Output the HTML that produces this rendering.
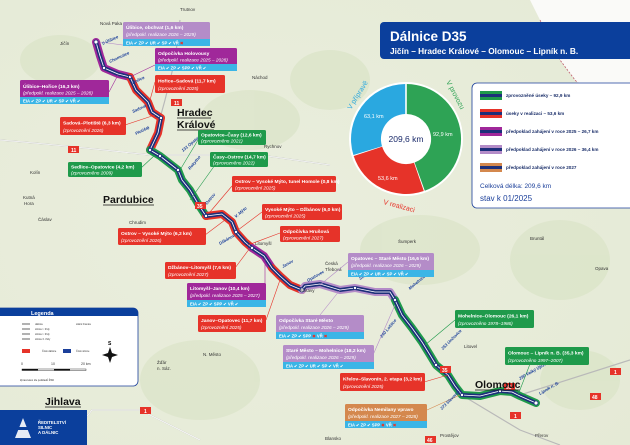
<!DOCTYPE html>
<html><head><meta charset="utf-8"><style>
html,body{margin:0;padding:0;background:#fff}
svg{display:block;font-family:"Liberation Sans",sans-serif}
.t{fill:#fff;font-weight:bold;font-size:4.9px}
.i{fill:#fff;font-style:italic;font-size:4.7px}
.b{fill:#fff;font-weight:bold;font-size:4.2px}
.m{fill:#333;font-size:4.5px}
.k{fill:#1b3f9a;font-weight:bold;font-style:italic;font-size:4.2px}
</style></head><body>
<svg width="630" height="445" viewBox="0 0 630 445" xmlns="http://www.w3.org/2000/svg">
<defs>
<radialGradient id="bg" cx="0.4" cy="0.5" r="0.8"><stop offset="0" stop-color="#eaeedd"/><stop offset="1" stop-color="#e5ead6"/></radialGradient>
</defs>
<rect width="630" height="445" fill="url(#bg)"/>
<path d="M530 0 L630 0 L630 160 L610 140 L600 120 L590 95 L575 80 L560 60 L550 40 L540 20 Z" fill="#fafaf8"/>
<path d="M540 20 L550 40 L560 60 L575 80 L590 95 L600 120 L610 140 L630 160" fill="none" stroke="#c06070" stroke-width="0.8" stroke-dasharray="2,1.5"/>
<g fill="#d8e3c4" opacity="0.6">
<ellipse cx="60" cy="60" rx="40" ry="25"/><ellipse cx="250" cy="120" rx="50" ry="30"/><ellipse cx="420" cy="250" rx="60" ry="35"/><ellipse cx="560" cy="260" rx="50" ry="40"/><ellipse cx="200" cy="380" rx="60" ry="40"/><ellipse cx="330" cy="80" rx="40" ry="30"/><ellipse cx="580" cy="380" rx="40" ry="30"/>
</g>
<g fill="none" stroke="#b9b9b9" stroke-width="1.2">
<path d="M0 140 Q60 145 150 155 L260 155 L330 165"/>
<path d="M80 425 L92 410 L140 410 L200 440"/>
<path d="M465 397 L520 430 L560 445"/>
<path d="M520 395 L630 360"/>
<path d="M150 155 L165 100 L175 60 L180 20"/>
</g>
<g fill="none" stroke="#ffffff" stroke-width="0.8">
<path d="M0 140 Q60 145 150 155 L260 155 L330 165"/>
<path d="M80 425 L92 410 L140 410 L200 440"/>
</g>
<g fill="none" stroke-linecap="round" stroke-linejoin="round">
<path d="M96 42 L100 56 L104 68 L118 74 L130 77" stroke="#a0289a" stroke-width="8"/>
<path d="M130 77 L136 90 L148 102 L152 112 L161 118 L158 133 L150 150" stroke="#e63329" stroke-width="8"/>
<path d="M150 150 L160 156 L178 170 L182 180 L190 190 L200 207 L206 216" stroke="#1f9a4b" stroke-width="8"/>
<path d="M206 216 L222 214 L232 222 L236 232 L245 242 L252 248" stroke="#e63329" stroke-width="8"/>
<path d="M252 248 L264 256 L272 268" stroke="#a0289a" stroke-width="8"/>
<path d="M272 268 L280 276 L290 285 L302 290" stroke="#e63329" stroke-width="8"/>
<path d="M302 290 L305 286 L320 284 L340 290 L355 288 L375 292 L390 292 L395 300" stroke="#b48cc8" stroke-width="8"/>
<path d="M395 300 L402 315 L412 328 L422 342 L430 355 L436 365 L448 375 L455 386 L462 395 L480 396 L500 391 L512 392 L520 396 L536 403" stroke="#1f9a4b" stroke-width="8"/>
<path d="M96 42 L100 56 L104 68 L118 74 L130 77 L136 90 L148 102 L152 112 L161 118 L158 133 L150 150 L160 156 L178 170 L182 180 L190 190 L200 207 L206 216 L222 214 L232 222 L236 232 L245 242 L252 248 L264 256 L272 268 L280 276 L290 285 L302 290 L305 286 L320 284 L340 290 L355 288 L375 292 L390 292 L395 300 L402 315 L412 328 L422 342 L430 355 L436 365 L448 375 L455 386 L462 395 L480 396 L500 391 L512 392 L520 396 L536 403" stroke="#1d2f7a" stroke-width="4"/>
<path d="M96 42 L100 56 L104 68 L118 74 L130 77 L136 90 L148 102 L152 112 L161 118 L158 133 L150 150 L160 156 L178 170 L182 180 L190 190 L200 207 L206 216 L222 214 L232 222 L236 232 L245 242 L252 248 L264 256 L272 268 L280 276 L290 285 L302 290 L305 286 L320 284 L340 290 L355 288 L375 292 L390 292 L395 300 L402 315 L412 328 L422 342 L430 355 L436 365 L448 375 L455 386 L462 395 L480 396 L500 391 L512 392 L520 396 L536 403" stroke="#fff" stroke-width="0.8"/>
</g>
<g fill="#fff" stroke="#1d2f7a" stroke-width="0.8">
<circle cx="96" cy="42" r="2"/><circle cx="104" cy="68" r="1.6"/><circle cx="130" cy="77" r="1.6"/><circle cx="161" cy="118" r="1.6"/><circle cx="150" cy="150" r="1.6"/><circle cx="160" cy="156" r="1.6"/><circle cx="178" cy="170" r="1.6"/><circle cx="206" cy="216" r="1.6"/><circle cx="236" cy="232" r="1.6"/><circle cx="252" cy="248" r="1.6"/><circle cx="302" cy="290" r="2"/><circle cx="355" cy="288" r="1.6"/><circle cx="395" cy="300" r="1.6"/><circle cx="436" cy="365" r="1.6"/><circle cx="462" cy="395" r="1.6"/><circle cx="500" cy="391" r="1.6"/><circle cx="536" cy="403" r="2"/>
</g>
<g font-size="5" font-weight="bold" fill="#fff">
<rect x="171" y="99" width="11" height="7" fill="#e63329"/><text x="174" y="105">11</text>
<rect x="68" y="146" width="11" height="7" fill="#e63329"/><text x="71" y="152">11</text>
<rect x="195" y="202" width="11" height="7" fill="#e63329"/><text x="197" y="208">35</text>
<rect x="440" y="366" width="11" height="7" fill="#e63329"/><text x="442" y="372">35</text>
<rect x="504" y="383" width="11" height="7" fill="#e63329"/><text x="506" y="389">35</text>
<rect x="610" y="368" width="11" height="7" fill="#e63329"/><text x="614" y="374">1</text>
<rect x="590" y="393" width="11" height="7" fill="#e63329"/><text x="592" y="399">48</text>
<rect x="510" y="412" width="11" height="7" fill="#e63329"/><text x="514" y="418">1</text>
<rect x="425" y="436" width="11" height="7" fill="#e63329"/><text x="427" y="442">46</text>
<rect x="140" y="407" width="11" height="7" fill="#e63329"/><text x="144" y="413">1</text>
</g>
<g class="m">
<text x="180" y="11">Trutnov</text><text x="100" y="25">Nová Paka</text><text x="60" y="45">Jičín</text><text x="252" y="79">Náchod</text><text x="264" y="148">Rychnov</text><text x="30" y="174">Kolín</text><text x="23" y="199">Kutná</text><text x="24" y="205">Hora</text><text x="129" y="224">Chrudim</text><text x="38" y="221">Čáslav</text><text x="255" y="245">Litomyšl</text><text x="325" y="265">Česká</text><text x="325" y="271">Třebová</text><text x="398" y="243">Šumperk</text><text x="530" y="240">Bruntál</text><text x="595" y="270">Opava</text><text x="464" y="348">Litovel</text><text x="535" y="437">Přerov</text><text x="440" y="437">Prostějov</text><text x="325" y="440">Blansko</text><text x="157" y="364">Žďár</text><text x="157" y="370">n. Sáz.</text><text x="203" y="356">N. Město</text><text x="300" y="292">Svitavy</text><text x="470" y="30">Broumov</text>
</g>
<g font-weight="bold" font-size="10.5" fill="#111">
<text x="177" y="116">Hradec</text>
<text x="177" y="128">Králové</text>
<text x="103" y="203">Pardubice</text>
<text x="475" y="388">Olomouc</text>
<text x="45" y="405">Jihlava</text>
</g>
<g stroke="#111" stroke-width="0.7">
<line x1="177" y1="118" x2="211" y2="118"/><line x1="177" y1="130" x2="214" y2="130"/><line x1="103" y1="205" x2="154" y2="205"/><line x1="475" y1="390" x2="520" y2="390"/><line x1="45" y1="407" x2="81" y2="407"/>
</g>
<g stroke-width="0.6" fill="none">
<path d="M130 46 L100 42" stroke="#b48cc8"/><path d="M155 65 L130 77" stroke="#a0289a"/><path d="M109 92 L118 75" stroke="#a0289a"/>
<path d="M155 82 L150 100" stroke="#e63329"/><path d="M125 125 L155 115" stroke="#e63329"/>
<path d="M198 140 L180 170" stroke="#1f9a4b"/><path d="M215 165 L190 200" stroke="#1f9a4b"/><path d="M141 168 L155 155" stroke="#1f9a4b"/>
<path d="M232 186 L210 212" stroke="#e63329"/><path d="M262 212 L238 230" stroke="#e63329"/><path d="M280 233 L248 245" stroke="#e63329"/>
<path d="M205 235 L225 220" stroke="#e63329"/><path d="M235 268 L250 248" stroke="#e63329"/><path d="M265 290 L265 258" stroke="#a0289a"/><path d="M266 320 L280 280" stroke="#e63329"/>
<path d="M320 315 L340 290" stroke="#b48cc8"/><path d="M348 262 L320 285" stroke="#b48cc8"/><path d="M373 355 L395 305" stroke="#b48cc8"/>
<path d="M455 320 L425 345" stroke="#1f9a4b"/><path d="M530 364 L518 395" stroke="#1f9a4b"/><path d="M424 382 L448 375" stroke="#e63329"/><path d="M427 410 L460 395" stroke="#d4884e"/>
</g>
<g class="k">
<text x="103" y="45" transform="rotate(-25 103 45)">0 Úlibice</text><text x="110" y="63" transform="rotate(-25 110 63)">Chomutice</text><text x="133" y="84" transform="rotate(-25 133 84)">Hořice</text><text x="133" y="113" transform="rotate(-25 133 113)">Sadová</text><text x="136" y="135" transform="rotate(-25 136 135)">Plotiště</text><text x="183" y="152" transform="rotate(-40 183 152)">131 Opatovice</text><text x="190" y="170" transform="rotate(-50 190 170)">Rokytno</text><text x="207" y="205" transform="rotate(-50 207 205)">Ostrov</text><text x="236" y="218" transform="rotate(-40 236 218)">V. Mýto</text><text x="220" y="245" transform="rotate(-30 220 245)">Džbánov</text><text x="283" y="268" transform="rotate(-30 283 268)">Janov</text><text x="308" y="282" transform="rotate(-30 308 282)">Opatovec</text><text x="360" y="280" transform="rotate(-30 360 280)">St. Město</text><text x="410" y="290" transform="rotate(-40 410 290)">Mohelnice</text><text x="382" y="338" transform="rotate(-50 382 338)">240 Loštice</text><text x="443" y="350" transform="rotate(-45 443 350)">253 Unčovice</text><text x="520" y="380" transform="rotate(-30 520 380)">290 Velký Újezd</text><text x="540" y="395" transform="rotate(-30 540 395)">Lipník n. B.</text><text x="442" y="410" transform="rotate(-45 442 410)">273 Slavonín</text>
</g>
<g>
<rect x="123" y="22" width="87" height="24" rx="1.5" fill="#b48cc8"/><rect x="123" y="39" width="87" height="7" fill="#3bb5e6"/>
<text class="t" x="126" y="29">Úlibice, obchvat (1,6 km)</text><text class="i" x="126" y="36">(předpokl. realizace 2026 – 2029)</text>
<text class="b" x="126" y="44.5">EIA ✔  ZP ✔  UR ✔  SP ✔  VŘ <tspan fill="#e63329">✖</tspan></text>
<rect x="155" y="48" width="82" height="23" rx="1.5" fill="#a0289a"/><rect x="155" y="64" width="82" height="7" fill="#3bb5e6"/>
<text class="t" x="158" y="55">Odpočívka Holovousy</text><text class="i" x="158" y="61.5">(předpokl. realizace 2025 – 2028)</text>
<text class="b" x="158" y="69.5">EIA ✔  ZP ✔  SPP ✔  VŘ ✔</text>
<rect x="20" y="80" width="89" height="24" rx="1.5" fill="#a0289a"/><rect x="20" y="97" width="89" height="7" fill="#3bb5e6"/>
<text class="t" x="23" y="88">Úlibice–Hořice (16,3 km)</text><text class="i" x="23" y="94.5">(předpokl. realizace 2025 – 2028)</text>
<text class="b" x="23" y="102.5">EIA ✔  ZP ✔  UR ✔  SP ✔  VŘ ✔</text>
<rect x="155" y="75" width="70" height="18" rx="1.5" fill="#e63329"/><text class="t" x="158" y="82.5">Hořice–Sadová (11,7 km)</text><text class="i" x="158" y="90">(zprovoznění 2025)</text>
<rect x="60" y="117" width="66" height="18" rx="1.5" fill="#e63329"/><text class="t" x="63" y="124.5">Sadová–Plotiště (6,3 km)</text><text class="i" x="63" y="132">(zprovoznění 2026)</text>
<rect x="198" y="130" width="68" height="15" rx="1.5" fill="#1f9a4b"/><text class="t" x="201" y="136.5">Opatovice–Časy (12,6 km)</text><text class="i" x="201" y="142.5">(zprovozněno 2021)</text>
<rect x="210" y="152" width="58" height="15" rx="1.5" fill="#1f9a4b"/><text class="t" x="213" y="158.5">Časy–Ostrov (14,7 km)</text><text class="i" x="213" y="164.5">(zprovozněno 2022)</text>
<rect x="68" y="162" width="74" height="15" rx="1.5" fill="#1f9a4b"/><text class="t" x="71" y="168.5">Sedlice–Opatovice (4,2 km)</text><text class="i" x="71" y="174.5">(zprovozněno 2009)</text>
<rect x="232" y="176" width="104" height="16" rx="1.5" fill="#e63329"/><text class="t" x="235" y="183">Ostrov – Vysoké Mýto, tunel Homole (0,8 km)</text><text class="i" x="235" y="189.5">(zprovoznění 2025)</text>
<rect x="262" y="204" width="80" height="16" rx="1.5" fill="#e63329"/><text class="t" x="265" y="211">Vysoké Mýto – Džbánov (6,0 km)</text><text class="i" x="265" y="217.5">(zprovoznění 2025)</text>
<rect x="280" y="226" width="60" height="16" rx="1.5" fill="#e63329"/><text class="t" x="283" y="233">Odpočívka Hrušová</text><text class="i" x="283" y="239.5">(zprovoznění 2027)</text>
<rect x="118" y="228" width="88" height="17" rx="1.5" fill="#e63329"/><text class="t" x="121" y="235">Ostrov – Vysoké Mýto (6,2 km)</text><text class="i" x="121" y="242">(zprovoznění 2026)</text>
<rect x="165" y="262" width="71" height="17" rx="1.5" fill="#e63329"/><text class="t" x="168" y="269">Džbánov–Litomyšl (7,6 km)</text><text class="i" x="168" y="276">(zprovoznění 2027)</text>
<rect x="187" y="283" width="79" height="24" rx="1.5" fill="#a0289a"/><rect x="187" y="300" width="79" height="7" fill="#3bb5e6"/>
<text class="t" x="190" y="290">Litomyšl–Janov (10,4 km)</text><text class="i" x="190" y="297">(předpokl. realizace 2025 – 2027)</text><text class="b" x="190" y="305.5">EIA ✔  ZP ✔  SPP ✔  VŘ ✔</text>
<rect x="198" y="315" width="68" height="17" rx="1.5" fill="#e63329"/><text class="t" x="201" y="322">Janov–Opatovec (11,7 km)</text><text class="i" x="201" y="329">(zprovoznění 2025)</text>
<rect x="276" y="315" width="88" height="24" rx="1.5" fill="#b48cc8"/><rect x="276" y="332" width="88" height="7" fill="#3bb5e6"/>
<text class="t" x="279" y="322">Odpočívka Staré Město</text><text class="i" x="279" y="329">(předpokl. realizace 2026 – 2029)</text><text class="b" x="279" y="337.5">EIA ✔  ZP ✔  SPP <tspan fill="#e63329">✖</tspan>  VŘ <tspan fill="#e63329">✖</tspan></text>
<rect x="283" y="345" width="91" height="24" rx="1.5" fill="#b48cc8"/><rect x="283" y="362" width="91" height="7" fill="#3bb5e6"/>
<text class="t" x="286" y="352">Staré Město – Mohelnice (18,2 km)</text><text class="i" x="286" y="359">(předpokl. realizace 2026 – 2029)</text><text class="b" x="286" y="367.5">EIA ✔  ZP ✔  UR ✔  SP ✔  VŘ ✔</text>
<rect x="348" y="253" width="86" height="24" rx="1.5" fill="#b48cc8"/><rect x="348" y="270" width="86" height="7" fill="#3bb5e6"/>
<text class="t" x="351" y="260">Opatovec – Staré Město (16,6 km)</text><text class="i" x="351" y="267">(předpokl. realizace 2026 – 2029)</text><text class="b" x="351" y="275.5">EIA ✔  ZP ✔  UR ✔  SP ✔  VŘ ✔</text>
<rect x="455" y="310" width="79" height="18" rx="1.5" fill="#1f9a4b"/><text class="t" x="458" y="317.5">Mohelnice–Olomouc (26,1 km)</text><text class="i" x="458" y="325">(zprovozněno 1978–1986)</text>
<rect x="505" y="347" width="84" height="18" rx="1.5" fill="#1f9a4b"/><text class="t" x="508" y="354.5">Olomouc – Lipník n. B. (35,3 km)</text><text class="i" x="508" y="362">(zprovozněno 1997–2007)</text>
<rect x="340" y="373" width="85" height="18" rx="1.5" fill="#e63329"/><text class="t" x="343" y="380.5">Křelov–Slavonín, 2. etapa (3,2 km)</text><text class="i" x="343" y="388">(zprovoznění 2025)</text>
<rect x="345" y="404" width="82" height="24" rx="1.5" fill="#d4884e"/><rect x="345" y="421" width="82" height="7" fill="#3bb5e6"/>
<text class="t" x="348" y="411">Odpočívka Nemilany vpravo</text><text class="i" x="348" y="418">(předpokl. realizace 2027 – 2028)</text><text class="b" x="348" y="426.5">EIA ✔  ZP ✔  SPP <tspan fill="#e63329">✖</tspan>  VŘ <tspan fill="#e63329">✖</tspan></text>
</g>
<rect x="380" y="22" width="255" height="37" rx="4" fill="#0b3f9c"/>
<text x="390" y="41" font-size="13.5" font-weight="bold" fill="#fff">Dálnice D35</text>
<text x="390" y="54" font-size="8.3" font-weight="bold" fill="#fff">Jičín – Hradec Králové – Olomouc – Lipník n. B.</text>
<circle cx="406" cy="139" r="57" fill="#fff"/>
<path d="M406.8 84 A55 55 0 0 1 424.8 190.7 L414.6 162.5 A25 25 0 0 0 406.8 114 Z" fill="#2ea355"/>
<path d="M423.8 191 A55 55 0 0 1 353.7 156 L382.2 146.7 A25 25 0 0 0 414 162.8 Z" fill="#e63329"/>
<path d="M353.4 155 A55 55 0 0 1 405.2 84 L405.2 114 A25 25 0 0 0 382 146.2 Z" fill="#2aa8e0"/>
<text x="406" y="142" font-size="8.5" text-anchor="middle" fill="#1a2a6a">209,6 km</text>
<text x="364" y="118" font-size="5.5" fill="#fff">63,1 km</text>
<text x="433" y="136" font-size="5.5" fill="#fff">92,9 km</text>
<text x="378" y="180" font-size="5.5" fill="#fff">53,6 km</text>
<text x="351" y="110" font-size="7" fill="#2aa8e0" transform="rotate(-58 351 110)">V přípravě</text>
<text x="446" y="82" font-size="7" fill="#2ea355" transform="rotate(62 446 82)">V provozu</text>
<text x="383" y="204" font-size="7" fill="#e63329" transform="rotate(15 383 204)">V realizaci</text>
<rect x="472" y="83" width="165" height="125" rx="5" fill="#fff" stroke="#1b3f9a" stroke-width="0.8"/>
<g>
<rect x="480" y="91" width="22" height="9" fill="#1f9a4b"/><rect x="480" y="94" width="22" height="3" fill="#1d2f7a"/>
<rect x="480" y="109" width="22" height="9" fill="#e63329"/><rect x="480" y="112" width="22" height="3" fill="#1d2f7a"/>
<rect x="480" y="127" width="22" height="9" fill="#a0289a"/><rect x="480" y="130" width="22" height="3" fill="#1d2f7a"/>
<rect x="480" y="145" width="22" height="9" fill="#b48cc8"/><rect x="480" y="148" width="22" height="3" fill="#1d2f7a"/>
<rect x="480" y="163" width="22" height="9" fill="#d4884e"/><rect x="480" y="166" width="22" height="3" fill="#1d2f7a"/>
</g>
<g font-size="4.6" font-weight="bold" fill="#1b2f6a">
<text x="506" y="97">zprovozněné úseky – 92,9 km</text>
<text x="506" y="115">úseky v realizaci – 53,6 km</text>
<text x="506" y="133">předpoklad zahájení v roce 2025 – 26,7 km</text>
<text x="506" y="151">předpoklad zahájení v roce 2026 – 36,4 km</text>
<text x="506" y="169">předpoklad zahájení v roce 2027</text>
</g>
<text x="480" y="188" font-size="6.5" fill="#1b3f9a">Celková délka: 209,6 km</text>
<text x="480" y="201" font-size="8" fill="#1b3f9a">stav k 01/2025</text>
<rect x="-5" y="308" width="143" height="78" rx="5" fill="#fff" stroke="#1b3f9a" stroke-width="0.8"/>
<path d="M-5 313 A5 5 0 0 1 0 308 L133 308 A5 5 0 0 1 138 313 L138 316 L-5 316 Z" fill="#0b3f9c"/>
<text x="31" y="315" font-size="5.5" font-weight="bold" fill="#fff">Legenda</text>
<g stroke="#999" stroke-width="1.5"><line x1="22" y1="324" x2="30" y2="324"/><line x1="22" y1="329" x2="30" y2="329"/><line x1="22" y1="334" x2="30" y2="334"/><line x1="22" y1="339" x2="30" y2="339"/></g>
<g font-size="2.5" fill="#333"><text x="35" y="325">dálnice</text><text x="35" y="330">silnice I. třídy</text><text x="35" y="335">silnice I. třídy</text><text x="35" y="340">silnice II. třídy</text><text x="76" y="325">státní hranice</text><text x="42" y="352">Číslo dálnice</text><text x="76" y="352">Číslo silnice</text><text x="20" y="381">Zpracováno dle podkladů ŘSD</text></g>
<rect x="22" y="349" width="8" height="4" fill="#e63329"/><rect x="63" y="349" width="8" height="4" fill="#1b3f9a"/>
<text x="108" y="345" font-size="5" font-weight="bold">S</text>
<path d="M110 347 L112 353 L118 355 L112 357 L110 363 L108 357 L102 355 L108 353 Z" fill="#111"/>
<g font-size="3.5" fill="#333"><text x="21" y="365">0</text><text x="51" y="365">10</text><text x="81" y="365">20 km</text></g>
<rect x="22" y="369" width="64" height="1.5" fill="#fff" stroke="#111" stroke-width="0.4"/><rect x="22" y="369" width="16" height="1.5" fill="#111"/><rect x="54" y="369" width="16" height="1.5" fill="#111"/>
<rect x="0" y="410" width="87" height="35" fill="#0b3f9c"/>
<g fill="#fff"><path d="M15 438 L23 418 L31 438 Z" opacity="0.9"/><rect x="13" y="427" width="20" height="3" fill="#0b3f9c"/></g>
<g font-size="4.3" font-weight="bold" fill="#fff"><text x="38" y="424">ŘEDITELSTVÍ</text><text x="38" y="429">SILNIC</text><text x="38" y="434">A DÁLNIC</text></g>
</svg>
</body></html>
